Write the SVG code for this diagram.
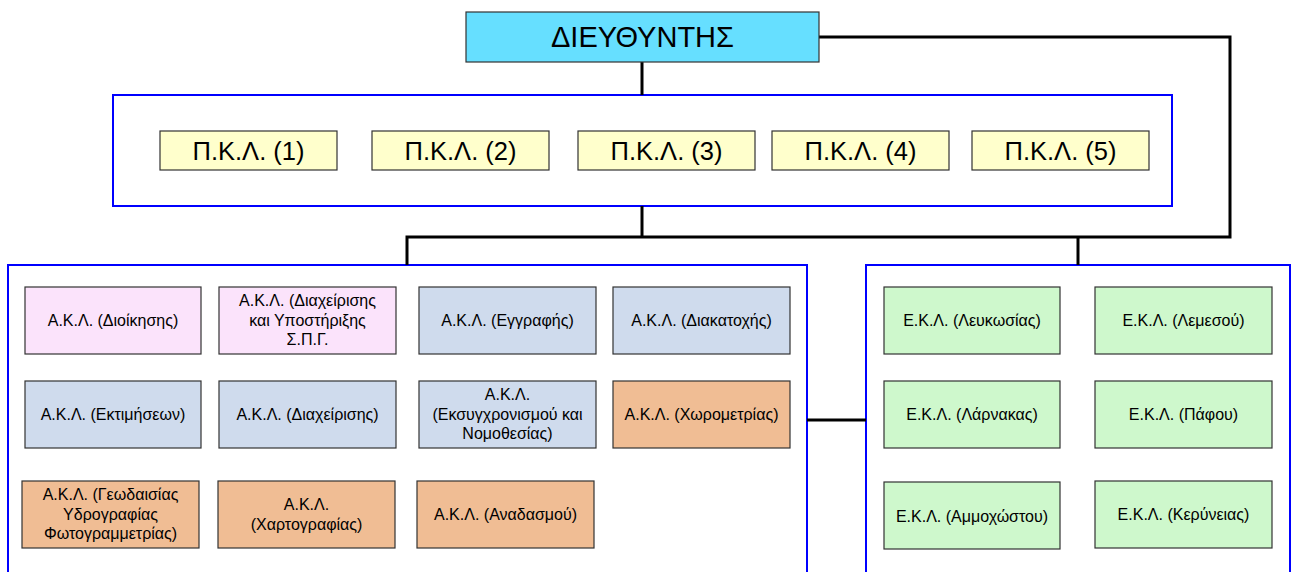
<svg xmlns="http://www.w3.org/2000/svg" width="1291" height="572" viewBox="0 0 1291 572">
<style>
.grp{fill:#fff;stroke:#0000ff;stroke-width:2}
.box{stroke:#333;stroke-width:1.2}
.t{font-family:"Liberation Sans",Arial,sans-serif;fill:#000;text-anchor:middle}
.s{font-size:16px}
.m{font-size:25.5px}
.l{font-size:29px}
.pk{fill:#ffffcc}
.pi{fill:#fbe3fb}
.bl{fill:#cfdbed}
.or{fill:#f0bd94}
.gr{fill:#cef8cc}
.c{fill:none;stroke:#000;stroke-width:3}
</style>
<g id="containers">
<rect class="grp" x="113" y="95" width="1059" height="111"/>
<rect class="grp" x="8" y="265" width="799" height="320"/>
<rect class="grp" x="866" y="265" width="424" height="320"/>
</g>
<g id="connectors">
<path class="c" d="M642 62V95"/>
<path class="c" d="M819 37H1230V237H407V265"/>
<path class="c" d="M642 206V237"/>
<path class="c" d="M1078 237V265"/>
<path class="c" d="M807 420H866"/>
</g>
<g id="director"><rect x="466" y="12" width="353" height="50" fill="#66dfff" class="box"/><text class="t l" x="642.5" y="47">ΔΙΕΥΘΥΝΤΗΣ</text></g>
<g id="pkl1"><rect class="box pk" x="160" y="131" width="177" height="39"/><text class="t m" x="248.5" y="160">Π.Κ.Λ. (1)</text></g>
<g id="pkl2"><rect class="box pk" x="372" y="131" width="177" height="39"/><text class="t m" x="460.5" y="160">Π.Κ.Λ. (2)</text></g>
<g id="pkl3"><rect class="box pk" x="578" y="131" width="177" height="39"/><text class="t m" x="666.5" y="160">Π.Κ.Λ. (3)</text></g>
<g id="pkl4"><rect class="box pk" x="772" y="131" width="177" height="39"/><text class="t m" x="860.5" y="160">Π.Κ.Λ. (4)</text></g>
<g id="pkl5"><rect class="box pk" x="972" y="131" width="177" height="39"/><text class="t m" x="1060.5" y="160">Π.Κ.Λ. (5)</text></g>
<g id="akl1"><rect class="box pi" x="25" y="287" width="176" height="67"/><text class="t s" x="113" y="326">Α.Κ.Λ. (Διοίκησης)</text></g>
<g id="akl2"><rect class="box pi" x="219" y="287" width="177" height="67"/><text class="t s" x="307.5" y="306">Α.Κ.Λ. (Διαχείρισης</text><text class="t s" x="307.5" y="325.5">και Υποστήριξης</text><text class="t s" x="307.5" y="345">Σ.Π.Γ.</text></g>
<g id="akl3"><rect class="box bl" x="419" y="287" width="177" height="67"/><text class="t s" x="507.5" y="326">Α.Κ.Λ. (Εγγραφής)</text></g>
<g id="akl4"><rect class="box bl" x="613" y="287" width="177" height="67"/><text class="t s" x="701.5" y="326">Α.Κ.Λ. (Διακατοχής)</text></g>
<g id="akl5"><rect class="box bl" x="25" y="381" width="176" height="67"/><text class="t s" x="113" y="420">Α.Κ.Λ. (Εκτιμήσεων)</text></g>
<g id="akl6"><rect class="box bl" x="219" y="381" width="177" height="67"/><text class="t s" x="307.5" y="420">Α.Κ.Λ. (Διαχείρισης)</text></g>
<g id="akl7"><rect class="box bl" x="419" y="381" width="177" height="67"/><text class="t s" x="507.5" y="400">Α.Κ.Λ.</text><text class="t s" x="507.5" y="419.5">(Εκσυγχρονισμού και</text><text class="t s" x="507.5" y="439">Νομοθεσίας)</text></g>
<g id="akl8"><rect class="box or" x="613" y="381" width="177" height="67"/><text class="t s" x="701.5" y="420">Α.Κ.Λ. (Χωρομετρίας)</text></g>
<g id="akl9"><rect class="box or" x="22" y="481" width="177" height="67"/><text class="t s" x="110.5" y="500">Α.Κ.Λ. (Γεωδαισίας</text><text class="t s" x="110.5" y="519.5">Υδρογραφίας</text><text class="t s" x="110.5" y="539">Φωτογραμμετρίας)</text></g>
<g id="akl10"><rect class="box or" x="218" y="481" width="177" height="67"/><text class="t s" x="306.5" y="510">Α.Κ.Λ.</text><text class="t s" x="306.5" y="529.5">(Χαρτογραφίας)</text></g>
<g id="akl11"><rect class="box or" x="417" y="481" width="177" height="67"/><text class="t s" x="505.5" y="520">Α.Κ.Λ. (Αναδασμού)</text></g>
<g id="ekl1"><rect class="box gr" x="884" y="287" width="176" height="67"/><text class="t s" x="972" y="326">Ε.Κ.Λ. (Λευκωσίας)</text></g>
<g id="ekl2"><rect class="box gr" x="1095" y="287" width="177" height="67"/><text class="t s" x="1183.5" y="326">Ε.Κ.Λ. (Λεμεσού)</text></g>
<g id="ekl3"><rect class="box gr" x="884" y="381" width="176" height="67"/><text class="t s" x="972" y="420">Ε.Κ.Λ. (Λάρνακας)</text></g>
<g id="ekl4"><rect class="box gr" x="1095" y="381" width="177" height="67"/><text class="t s" x="1183.5" y="420">Ε.Κ.Λ. (Πάφου)</text></g>
<g id="ekl5"><rect class="box gr" x="884" y="482" width="176" height="67"/><text class="t s" x="972" y="522">Ε.Κ.Λ. (Αμμοχώστου)</text></g>
<g id="ekl6"><rect class="box gr" x="1095" y="481" width="177" height="67"/><text class="t s" x="1183.5" y="520">Ε.Κ.Λ. (Κερύνειας)</text></g>
</svg>
